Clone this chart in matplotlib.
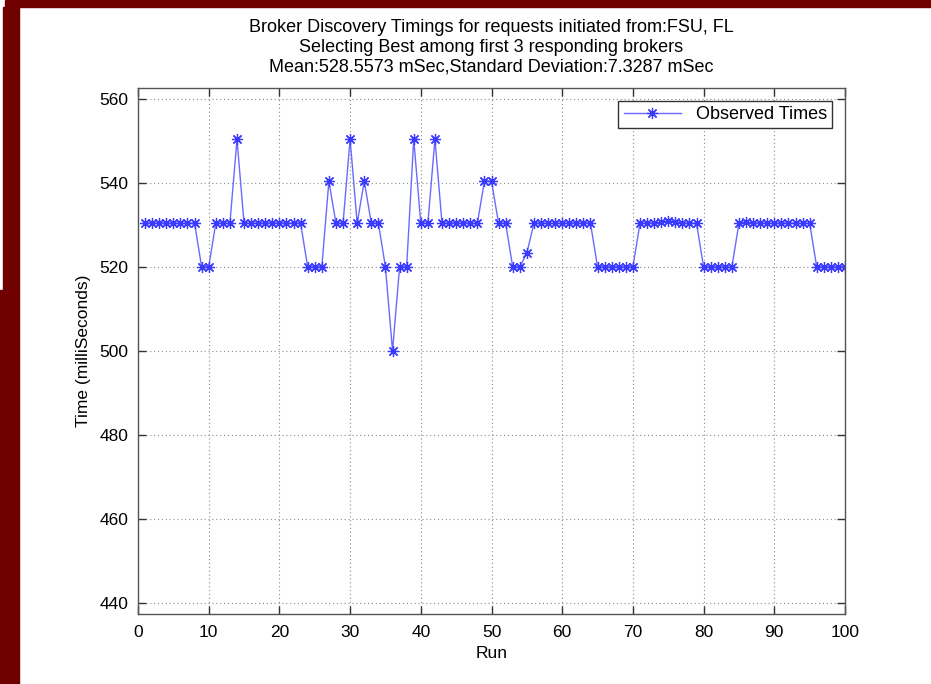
import matplotlib
matplotlib.use("Agg")
import matplotlib.pyplot as plt
from matplotlib.patches import Rectangle

runs = list(range(1, 101))
times = (
    [530.4] * 8 + [520.0] * 2 + [530.4] * 3 + [550.4] + [530.4] * 9
    + [520.0] * 3 + [540.4] + [530.4] * 2 + [550.4] + [530.4] + [540.4]
    + [530.4] * 2 + [520.0] + [500.0] + [520.0] * 2 + [550.4] + [530.4] * 2
    + [550.4] + [530.4] * 6 + [540.4] * 2 + [530.4] * 2 + [520.0] * 2
    + [523.3] + [530.4] * 9 + [520.0] * 6
    + [530.4, 530.4, 530.4, 530.6, 531.0, 530.8, 530.4, 530.4, 530.4]
    + [520.0] * 5 + [530.4, 530.7] + [530.4] * 9 + [520.0] * 5
)

title_lines = [
    "Broker Discovery Timings for requests initiated from:FSU, FL",
    "Selecting Best among first 3 responding brokers",
    "Mean:528.5573 mSec,Standard Deviation:7.3287 mSec",
]
x_ticks = list(range(0, 101, 10))
y_ticks = list(range(440, 561, 20))

plt.rcParams["font.family"] = ["Liberation Sans", "DejaVu Sans"]

fig = plt.figure(figsize=(9.31, 6.84), dpi=100)
fig.patch.set_facecolor("white")

# slide background frame
frame = "#700000"
fig.patches.append(Rectangle((5 / 931, 1 - 7 / 684), 1, 7 / 684,
                             transform=fig.transFigure, color=frame, zorder=0))
fig.patches.append(Rectangle((3 / 931, 1 - 290 / 684), 16 / 931, 283 / 684,
                             transform=fig.transFigure, color=frame, zorder=0))
fig.patches.append(Rectangle((0, 0), 19 / 931, 1 - 290 / 684,
                             transform=fig.transFigure, color=frame, zorder=0))

ax = fig.add_axes([138 / 931, 1 - 614 / 684, 707 / 931, 526 / 684])
ax.plot(runs, times, color="#6a6aff", lw=1.0, marker=(8, 2, 0), ms=8,
        mec="#3a3aff", mew=0.9, label="Observed Times")

ax.set_xlim(0, 100)
ax.set_ylim(437.4, 562.6)
ax.set_xticks(x_ticks)
ax.set_yticks(y_ticks)
ax.tick_params(direction="in", length=6, width=1, top=True, right=True,
               labelsize=12.5, colors="#333333", labelcolor="black")
ax.tick_params(axis="x", pad=8)
ax.tick_params(axis="y", pad=7)
for s in ax.spines.values():
    s.set_color("#555555")
    s.set_linewidth(1)
ax.grid(True, color="#8a8a8a", linestyle=(0, (1, 2.5)), linewidth=0.8)

ax.set_xlabel("Run", fontsize=12.5, labelpad=4)
ax.set_ylabel("Time (milliSeconds)", fontsize=12.5, labelpad=6)
ax.set_title("\n".join(title_lines), fontsize=13, linespacing=1.2, pad=12)

leg = ax.legend(loc="upper right", fontsize=13, fancybox=False,
                edgecolor="#333333", framealpha=1, handlelength=3.2,
                borderpad=0.3, borderaxespad=0.7)
leg.get_frame().set_linewidth(1)

fig.savefig("out.png", dpi=100)
plt.close(fig)
